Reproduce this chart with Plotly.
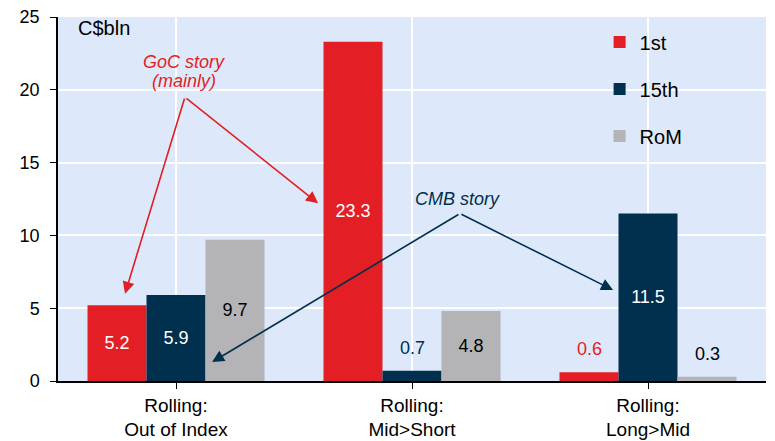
import plotly.graph_objects as go

# Rolling flows by date bucket, C$ billions
categories = ["Rolling:<br>Out of Index", "Rolling:<br>Mid>Short", "Rolling:<br>Long>Mid"]
series_names = ["1st", "15th", "RoM"]
first = [5.2, 23.3, 0.6]
fifteenth = [5.9, 0.7, 11.5]
rom = [9.7, 4.8, 0.3]
y_ticks = [0, 5, 10, 15, 20, 25]

RED = "#e31e24"
NAVY = "#00304e"
GREY = "#b4b4b7"
BG = "#dde9fb"
FONT = "Liberation Sans, Arial, sans-serif"

series = [first, fifteenth, rom]
colors = [RED, NAVY, GREY]
inside_font = ["white", "white", "black"]
outside_font = [RED, NAVY, "black"]
SMALL = 2.0   # bars shorter than this get their label above the bar
BARGAP = 0.25
bar_w = (1 - BARGAP) / len(series)

fig = go.Figure()
for j, (name, vals, col) in enumerate(zip(series_names, series, colors)):
    fig.add_trace(go.Bar(
        x=list(range(len(categories))), y=vals, name=name,
        marker=dict(color=col, line=dict(width=0)),
        text=[f"{v:.1f}" for v in vals],
        textposition=["inside" if v >= SMALL else "none" for v in vals],
        insidetextanchor="middle",
        textfont=dict(color=inside_font[j], size=18, family=FONT),
        legendgroup=name,
    ))

annotations = []
# labels for the short bars sit above them
for j, vals in enumerate(series):
    for i, v in enumerate(vals):
        if v < SMALL:
            annotations.append(dict(
                x=i + (j - 1) * bar_w, y=v, xref="x", yref="y",
                text=f"{v:.1f}", showarrow=False, yshift=23,
                font=dict(color=outside_font[j], size=18, family=FONT)))

annotations.append(dict(x=-0.5, y=24.26, xref="x", yref="y", text="C$bln",
                        showarrow=False, xanchor="left", yanchor="middle",
                        xshift=18,
                        font=dict(size=20, color="black", family=FONT)))

annotations.append(dict(x=0.034, y=21.9, xref="x", yref="y",
                        text="<i>GoC story</i>", showarrow=False,
                        font=dict(size=18, color=RED, family=FONT)))
annotations.append(dict(x=0.034, y=20.6, xref="x", yref="y",
                        text="<i>(mainly)</i>", showarrow=False,
                        font=dict(size=18, color=RED, family=FONT)))
annotations.append(dict(x=1.193, y=12.5, xref="x", yref="y",
                        text="<i>CMB story</i>", showarrow=False,
                        font=dict(size=18, color=NAVY, family=FONT)))

def arrow(tail, head, color):
    return dict(x=head[0], y=head[1], ax=tail[0], ay=tail[1],
                xref="x", yref="y", axref="x", ayref="y", text="",
                showarrow=True, arrowhead=2, arrowsize=1.5, arrowwidth=1.6,
                arrowcolor=color, standoff=0, startstandoff=0)

goc_vertex = (0.038, 19.5)
cmb_vertex = (1.203, 11.5)
annotations += [
    arrow(goc_vertex, (-0.216, 6.0), RED),
    arrow(goc_vertex, (0.602, 12.2), RED),
    arrow(cmb_vertex, (0.153, 1.3), NAVY),
    arrow(cmb_vertex, (1.852, 6.25), NAVY),
]

fig.update_layout(
    width=775, height=441,
    margin=dict(l=58, r=9, t=17, b=60, autoexpand=False),
    paper_bgcolor="white", plot_bgcolor=BG,
    barmode="group", bargap=BARGAP, bargroupgap=0,
    font=dict(family=FONT, size=18, color="black"),
    showlegend=True,
    legend=dict(x=0.765, y=0.985, xanchor="left", yanchor="top",
                bgcolor="rgba(0,0,0,0)", font=dict(size=20),
                traceorder="grouped", tracegroupgap=18,
                itemwidth=30),
    annotations=annotations,
)
fig.update_xaxes(
    tickvals=list(range(len(categories))), ticktext=categories,
    range=[-0.5, len(categories) - 0.5], automargin=False,
    showline=True, linecolor="black", linewidth=1.5,
    ticks="outside", tickson="boundaries", ticklen=6, tickcolor="black",
    showgrid=True, gridcolor="white", gridwidth=2,
    tickfont=dict(size=19), ticklabelstandoff=0,
)
fig.update_yaxes(
    range=[0, 25], tickvals=y_ticks, automargin=False,
    showline=True, linecolor="black", linewidth=1.5,
    ticks="outside", ticklen=6, tickcolor="black",
    showgrid=True, gridcolor="white", gridwidth=2,
    zeroline=False, tickfont=dict(size=18), ticklabelstandoff=7,
)

fig.write_html("out.html")
